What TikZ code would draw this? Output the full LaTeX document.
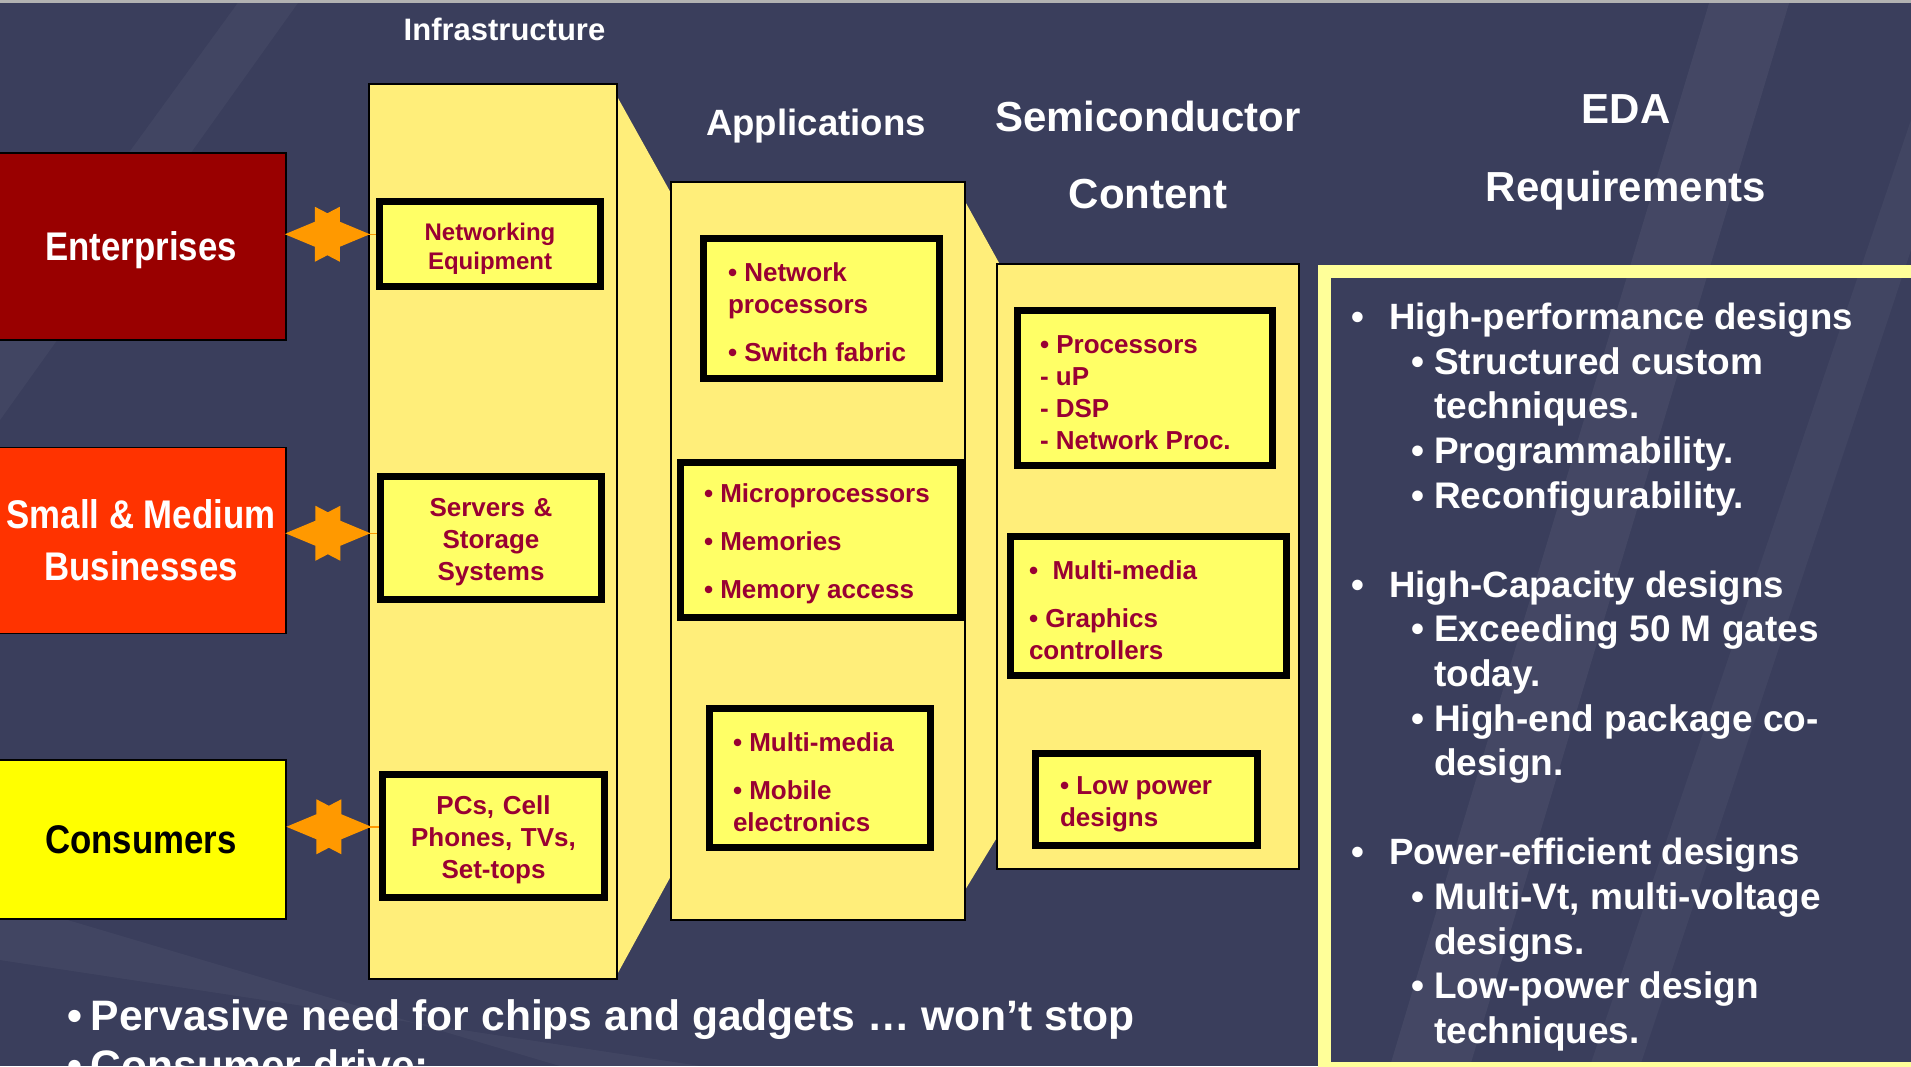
\documentclass[tikz,border=0pt]{standalone}
\usepackage{fontspec}
\setmainfont{Liberation Sans}
\newfontfamily\narrowsf{Liberation Sans}[FakeStretch=0.87]
\usetikzlibrary{calc}

\definecolor{slidebg}{RGB}{58,62,92}
\definecolor{colfill}{RGB}{255,238,122}
\definecolor{itemfill}{RGB}{255,255,102}
\definecolor{itemtext}{RGB}{153,0,51}
\definecolor{entred}{RGB}{153,0,0}
\definecolor{smbred}{RGB}{255,51,0}
\definecolor{conyellow}{RGB}{255,255,0}
\definecolor{starorange}{RGB}{255,153,0}
\definecolor{framepale}{RGB}{255,255,153}

% bullet lines of the requirements list
\newcommand\edamain[1]{\makebox[38pt][l]{\textbullet}#1}
\newcommand\edasub[1]{\hspace*{60pt}{\fontsize{37}{44.6}\selectfont\makebox[23pt][l]{\textbullet}#1}}
\newcommand\edacont[1]{\hspace*{83pt}{\fontsize{37}{44.6}\selectfont #1}}

\pgfdeclarelayer{bg}
\pgfdeclarelayer{links}
\pgfsetlayers{bg,links,main}

\begin{document}
\begin{tikzpicture}[x=1pt, y=-1pt,
    block_market/.style ={rectangle, draw=black, line width=1.5pt,
      minimum width=290pt, text=white, align=center,
      font=\narrowsf\bfseries\fontsize{40}{52}\selectfont},
    block_column/.style ={rectangle, draw=black, line width=1.5pt, fill=colfill},
    block_item/.style ={rectangle, draw=black, line width=7pt, fill=itemfill,
      text=itemtext, align=center, inner sep=0pt, text width=200pt,
      execute at begin node={\rule{0pt}{27pt}},
      font=\bfseries\fontsize{26}{32}\selectfont},
    block_list/.style ={block_item, align=flush left},
    eda_frame/.style ={rectangle, draw=framepale, line width=12.5pt},
    header/.style ={text=white, anchor=base, font=\bfseries\fontsize{42}{50}\selectfont},
    link_star/.style ={fill=starorange},
    link_band/.style ={fill=colfill},
    note/.style ={text=white, anchor=base west, inner sep=0pt,
      font=\bfseries\fontsize{42.6}{50}\selectfont}]
    \useasboundingbox (0,0) rectangle (1911,1066);

    % slide background
    \begin{pgfonlayer}{bg}
      \fill[slidebg] (0,0) rectangle (1911,1066);
      \fill[white, opacity=.05] (1390,1066) -- (1470,1066) -- (1790,0) -- (1710,0) -- cycle;
      \fill[white, opacity=.04] (1590,1066) -- (1640,1066) -- (1911,250) -- (1911,120) -- cycle;
      \fill[white, opacity=.04] (0,330) -- (0,420) -- (300,0) -- (240,0) -- cycle;
      \fill[white, opacity=.04] (0,900) -- (0,960) -- (700,1066) -- (560,1066) -- cycle;
      \draw[gray!60, line width=3pt] (0,1) -- (1911,1);
    \end{pgfonlayer}

    % headers
    \node[header, font=\bfseries\fontsize{31}{36}\selectfont] (infra_lbl) at (504.5,40) {Infrastructure};
    \node[header, font=\bfseries\fontsize{36.6}{42}\selectfont] (apps_lbl) at (816,135) {Applications};
    \node[header] (sc_lbl) at (1148,131.7) {Semiconductor};
    \node[header] (sc_lbl2) at (1148,208.3) {Content};
    \node[header] (eda_lbl) at (1626,123.4) {EDA};
    \node[header] (eda_lbl2) at (1626,201) {Requirements};

    % market segments
    \node[block_market, fill=entred, minimum height=187pt, text depth=0pt] (ent) at (141,246.5) {Enterprises};
    \node[block_market, fill=smbred, minimum height=186pt] (smb) at (141,540.5) {Small \& Medium\\Businesses};
    \node[block_market, fill=conyellow, text=black, minimum height=159pt] (con) at (141,839.5) {Consumers};

    % columns
    \node[block_column, minimum width=248pt, minimum height=895pt] (infra) at (493,531.5) {};
    \node[block_column, minimum width=294pt, minimum height=738pt] (apps) at (818,551) {};
    \node[block_column, minimum width=302pt, minimum height=605pt] (sc) at (1148,566.5) {};

    % infrastructure
    \node[block_item, minimum width=221pt, minimum height=85pt,
      font=\bfseries\fontsize{24}{29}\selectfont] (net) at (490,244) {Networking\\Equipment};
    \node[block_item, minimum width=221pt, minimum height=123pt] (srv) at (491,538) {Servers \&\\Storage\\Systems};
    \node[block_item, minimum width=222pt, minimum height=123pt] (pcs) at (493.5,836) {PCs, Cell\\Phones, TVs,\\Set-tops};

    % applications
    \node[block_list, minimum width=236pt, minimum height=140pt, inner xsep=24.5pt, text width=187pt]
      (a1) at (821.5,308.5) {\textbullet\ Network\\processors\\[16pt]\textbullet\ Switch fabric};
    \node[block_list, minimum width=280pt, minimum height=155pt, inner xsep=23.5pt, text width=233pt]
      (a2) at (820.5,540) {\textbullet\ Microprocessors\\[16pt]\textbullet\ Memories\\[16pt]\textbullet\ Memory access};
    \node[block_list, minimum width=221pt, minimum height=139pt, inner xsep=23.5pt, text width=174pt]
      (a3) at (820,778) {\textbullet\ Multi-media\\[16pt]\textbullet\ Mobile\\electronics};

    % semiconductor content
    \node[block_list, minimum width=255pt, minimum height=155pt, inner xsep=22.5pt, text width=210pt]
      (s1) at (1145,388) {\textbullet\ Processors\\- uP\\- DSP\\- Network Proc.};
    \node[block_list, minimum width=276pt, minimum height=139pt, inner xsep=18.5pt, text width=239pt]
      (s2) at (1148.5,606) {\textbullet\ \ Multi-media\\[16pt]\textbullet\ Graphics\\controllers};
    \node[block_list, minimum width=222pt, minimum height=92pt, inner xsep=24.5pt, text width=173pt]
      (s3) at (1146.5,799.5) {\textbullet\ Low power\\designs};

    % funnels between the columns
    \begin{pgfonlayer}{links}
      \fill[link_band] ([xshift=-3pt,yshift=-9pt]infra.north east) -- ([xshift=3pt,yshift=-16pt]apps.north west)
        -- ([xshift=3pt,yshift=49pt]apps.south west) -- ([xshift=-3pt,yshift=1pt]infra.south east) -- cycle;
      \fill[link_band] ([xshift=-3pt,yshift=-16pt]apps.north east) -- ([xshift=3pt]sc.north west)
        -- ([xshift=3pt,yshift=36pt]sc.south west) -- ([xshift=-3pt,yshift=27pt]apps.south east) -- cycle;
    \end{pgfonlayer}

    % markets to infrastructure
    \foreach \src/\dst/\dy in {ent/net/11, smb/srv/6, con/pcs/11} {
      \begin{scope}[shift={($(\src.east)!.5!(\dst.west)+(-4,-\dy)$)}]
        \fill[link_star] (42.5,0) -- (12.5,-12.5) -- (12.5,-27.5) -- (0,-21) -- (-12.5,-27.5)
          -- (-12.5,-12.5) -- (-42.5,0) -- (-12.5,12.5) -- (-12.5,27.5) -- (0,21)
          -- (12.5,27.5) -- (12.5,12.5) -- cycle;
        \draw[starorange, line width=1.5pt] (40,0) -- (\dst.west |- 0,0);
      \end{scope}
    }

    % requirements
    \node[eda_frame, anchor=north west, minimum width=600pt, minimum height=797pt] (req_box) at (1318,265) {};
    \node[text=white, anchor=north west, inner sep=0pt, align=left,
      font=\bfseries\fontsize{36.6}{44.6}\selectfont] (req_list) at (1351,303) {%
      \edamain{High-performance designs}\\
      \edasub{Structured custom}\\
      \edacont{techniques.}\\
      \edasub{Programmability.}\\
      \edasub{Reconfigurability.}\\[44.6pt]
      \edamain{High-Capacity designs}\\
      \edasub{Exceeding 50 M gates}\\
      \edacont{today.}\\
      \edasub{High-end package co-}\\
      \edacont{design.}\\[44.6pt]
      \edamain{Power-efficient designs}\\
      \edasub{Multi-Vt, multi-voltage}\\
      \edacont{designs.}\\
      \edasub{Low-power design}\\
      \edacont{techniques.}};

    % notes at the foot
    \node[note] (note1) at (67.5,1030) {\makebox[23pt][l]{\textbullet}Pervasive need for chips and gadgets … won’t stop};
    \node[note] (note2) at (67.5,1080) {\makebox[23pt][l]{\textbullet}Consumer drive:};
\end{tikzpicture}
\end{document}
